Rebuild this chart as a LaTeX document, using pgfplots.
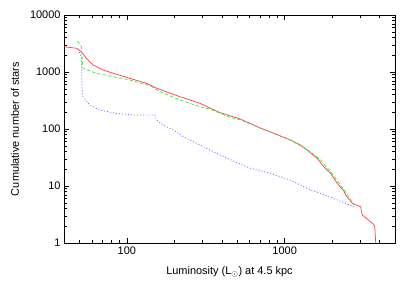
\documentclass[border=0pt]{standalone}
\usepackage{pgfplots}
\pgfplotsset{compat=1.18}
\usepackage{fontspec}
\setmainfont{Liberation Sans}
\definecolor{cred}{RGB}{255,60,60}
\definecolor{cgreen}{RGB}{70,225,70}
\definecolor{cblue}{RGB}{110,110,255}
\begin{document}
\begin{tikzpicture}
\path[use as bounding box] (-64bp,-48bp) rectangle (351bp,243bp);
\begin{axis}[
  at={(0,0)}, anchor=south west,
  scale only axis, width=331bp, height=228bp,
  xmode=log, ymode=log,
  xmin=40, xmax=5000, ymin=1, ymax=10000,
  xtick={100,1000}, xticklabels={100,1000},
  ytick={1,10,100,1000,10000}, yticklabels={1,10,100,1000,10000},
  minor xtick={50,60,70,80,90,200,300,400,500,600,700,800,900,2000,3000,4000},
  minor ytick={2,3,4,5,6,7,8,9,20,30,40,50,60,70,80,90,200,300,400,500,600,700,800,900,2000,3000,4000,5000,6000,7000,8000,9000},
  tick align=inside,
  major tick length=5bp, minor tick length=3bp,
  tick style={black, line width=0.5pt},
  axis line style={line width=0.8pt},
  ticklabel style={font=\fontsize{11}{13}\selectfont},
  label style={font=\fontsize{11}{13}\selectfont},
  xlabel={Luminosity (L$_{\odot}$) at 4.5 kpc},
  ylabel={Cumulative number of stars},
  xlabel style={at={(axis description cs:0.5,-0.127)}, anchor=center},
  ylabel style={at={(axis description cs:-0.148,0.5)}, anchor=center},
]
\addplot[cred, line width=0.7pt] table {
40 2782
48.1 2606
51.5 2270
55.5 1738
61.1 1327
70.7 1084
86.0 912
104.5 775
133.4 634
154.5 518
217 369
291 282
390 193
522 150
701 104
940 75.4
1087 64.1
1259 52.4
1388 42.8
1606 30.6
1770 21.8
1954 16.7
2155 11.1
2372 8.17
2432 6.95
2680 4.97
3027 4.33
3103 3.10
3594 2.22
3719 1.99
3774 1
};
\addplot[cgreen, line width=0.7pt, dash pattern=on 3.5pt off 2pt] table {
48.6 3500
51.5 2782
52.7 1161
64.1 949
81.8 828
104.5 724
140 576
162 451
217 323
291 246
337 222
452 160
522 145
701 104
940 76
1087 64
1456 40.0
1687 28.6
1954 17.8
2259 10.4
2553 6.49
2748 4.64
};
\addplot[cblue, line width=0.8pt, dash pattern=on 1pt off 2pt] table {
49.0 2501
51.5 1854
52.0 552
52.7 369
58.2 264
67.3 215
86.0 188
109.7 176
150.6 176
154.5 144
170 117
197 95.9
228 73.3
277 56.1
337 42.8
390 35.0
522 24.3
605 20.5
811 16.7
1087 12.7
1259 10.4
1456 8.51
1687 7.45
2155 5.68
2748 4.33
};
\end{axis}
\end{tikzpicture}
\end{document}
